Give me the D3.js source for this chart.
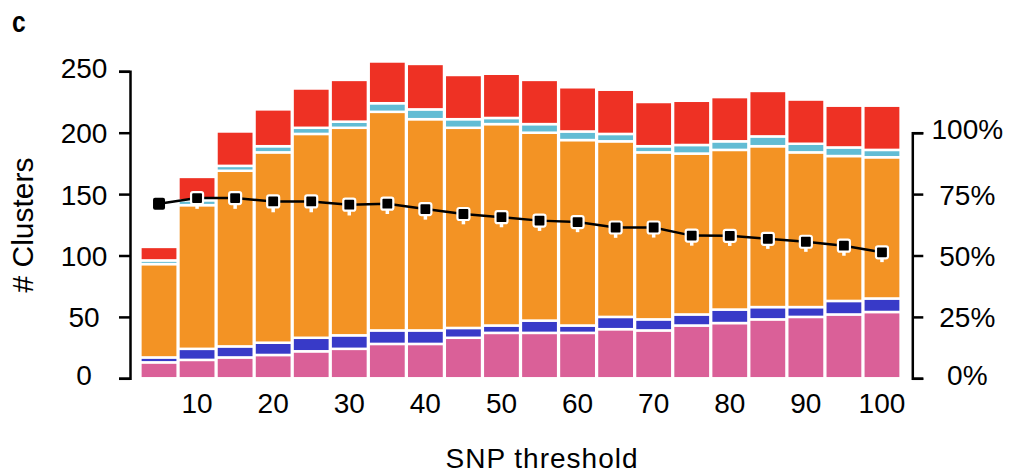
<!DOCTYPE html>
<html>
<head>
<meta charset="utf-8">
<script src="https://cdn.jsdelivr.net/npm/d3@7"></script>
<style>
  html, body { margin: 0; padding: 0; background: #fff; }
  svg { display: block; }
  text { font-family: "Liberation Sans", Arial, Helvetica, sans-serif; fill: #000; }
</style>
</head>
<body>
<svg id="chart" width="1010" height="473"></svg>
<script>
// SNP thresholds (one stacked bar each)
const thresholds = [5, 10, 15, 20, 25, 30, 35, 40, 45, 50, 55, 60, 65, 70, 75, 80, 85, 90, 95, 100];
const xTickLabels = [10, 20, 30, 40, 50, 60, 70, 80, 90, 100];
const yTicks = [0, 50, 100, 150, 200, 250];
const pctTicks = [0, 25, 50, 75, 100];

// Cluster counts per category, bottom to top of each stack
const pinkCounts   = [13, 15, 17, 19, 22, 24, 28, 28, 33, 37, 37, 37, 40, 39, 43, 45, 48, 50, 52, 54];
const blueCounts   = [4, 9, 9, 10, 11, 11, 11, 11, 8, 6, 10, 6, 10, 9, 9, 11, 10, 8, 11, 11];
const orangeCounts = [76, 117, 143, 155, 166, 169, 178, 172, 163, 164, 153, 151, 143, 136, 131, 130, 131, 126, 118, 115];
const cyanCounts   = [3, 4, 4, 5, 5, 5, 7, 8, 7, 5, 7, 7, 6, 5, 7, 7, 8, 7, 7, 6];
const redCounts    = [11, 19, 28, 30, 32, 34, 34, 37, 36, 36, 36, 36, 36, 36, 36, 36, 37, 36, 34, 36];

// Percentage line (right axis) with its lower / upper whiskers
const pctValues = [71.1, 73.4, 73.4, 72.0, 72.0, 70.7, 71.1, 68.9, 66.9, 65.6, 64.2, 63.6, 61.4, 61.4, 58.1, 58.0, 56.8, 55.6, 54.0, 51.3];
const pctLow    = [69.0, 69.0, 69.0, 67.6, 67.6, 66.3, 66.9, 64.6, 62.7, 61.5, 60.0, 59.5, 57.2, 57.3, 54.0, 53.9, 52.7, 51.5, 49.9, 47.3];
const pctHigh   = [72.0, 74.5, 75.0, 73.0, 73.0, 72.0, 72.0, 70.0, 68.0, 66.5, 65.5, 64.5, 62.5, 62.5, 59.5, 59.0, 58.0, 56.5, 55.0, 52.5];

const seriesKeys = ["pink", "blue", "orange", "cyan", "red"];
const seriesColors = {
  pink: "#da6098",
  blue: "#383ac8",
  orange: "#f39324",
  cyan: "#62bcd4",
  red: "#ee3124"
};

const rows = thresholds.map((t, i) => ({
  threshold: t,
  pink: pinkCounts[i],
  blue: blueCounts[i],
  orange: orangeCounts[i],
  cyan: cyanCounts[i],
  red: redCounts[i]
}));

const svg = d3.select("#chart");

const x = d3.scaleBand()
  .domain(thresholds)
  .range([140, 901])
  .paddingInner(0.02)
  .paddingOuter(0.01);

const y = d3.scaleLinear().domain([0, 250]).range([378.3, 71.3]);
const yPct = d3.scaleLinear().domain([0, 100]).range([y(0), y(200)]);

// Stacked bars
const stacked = d3.stack().keys(seriesKeys)(rows);

svg.append("g")
  .selectAll("g")
  .data(stacked)
  .join("g")
    .attr("fill", d => seriesColors[d.key])
  .selectAll("rect")
  .data(d => d)
  .join("rect")
    .attr("x", d => x(d.data.threshold))
    .attr("width", x.bandwidth())
    .attr("y", d => y(d[1]))
    .attr("height", d => y(d[0]) - y(d[1]))
    .attr("stroke", "#fff")
    .attr("stroke-width", 2.5);

// End labels sit a little above their ticks
const labelShift = (d, list) => (d === list[0] || d === list[list.length - 1]) ? -4 : 0;

// Left axis
const leftAxis = svg.append("g")
  .attr("transform", "translate(130,0)")
  .call(d3.axisLeft(y).tickValues(yTicks).tickSize(11).tickSizeOuter(11));
leftAxis.selectAll("path, line").attr("stroke", "#000").attr("stroke-width", 2.5);
leftAxis.selectAll("text")
  .attr("font-size", 28)
  .attr("font-family", "Liberation Sans, Arial, sans-serif")
  .attr("text-anchor", "middle")
  .attr("x", -46)
  .attr("y", d => labelShift(d, yTicks))
  .attr("dy", "0.36em");

// Right axis (percent)
const rightAxis = svg.append("g")
  .attr("transform", "translate(912.3,0)")
  .call(d3.axisRight(yPct).tickValues(pctTicks).tickSize(11).tickSizeOuter(11).tickFormat(d => d + "%"));
rightAxis.selectAll("path, line").attr("stroke", "#000").attr("stroke-width", 2.5);
rightAxis.selectAll("text")
  .attr("font-size", 28)
  .attr("font-family", "Liberation Sans, Arial, sans-serif")
  .attr("text-anchor", "middle")
  .attr("x", 55)
  .attr("y", d => labelShift(d, pctTicks))
  .attr("dy", "0.36em");

// Bottom tick labels (no axis line)
const bottomAxis = svg.append("g")
  .attr("transform", "translate(0,378)")
  .call(d3.axisBottom(x).tickValues(xTickLabels).tickSize(0));
bottomAxis.select(".domain").remove();
bottomAxis.selectAll("text")
  .attr("font-size", 28)
  .attr("font-family", "Liberation Sans, Arial, sans-serif")
  .attr("y", 35)
  .attr("dy", 0);

// Percentage line
const cx = (i) => x(thresholds[i]) + x.bandwidth() / 2;

const line = d3.line()
  .x((d, i) => cx(i))
  .y(d => yPct(d));

svg.append("path")
  .datum(pctValues)
  .attr("fill", "none")
  .attr("stroke", "#000")
  .attr("stroke-width", 2.5)
  .attr("d", line);

// Whiskers
svg.append("g")
  .selectAll("line")
  .data(pctValues)
  .join("line")
    .attr("x1", (d, i) => cx(i))
    .attr("x2", (d, i) => cx(i))
    .attr("y1", (d, i) => yPct(pctHigh[i]))
    .attr("y2", (d, i) => yPct(pctLow[i]))
    .attr("stroke", "#fff")
    .attr("stroke-width", 3.5);

// Markers
svg.append("g")
  .selectAll("rect")
  .data(pctValues)
  .join("rect")
    .attr("x", (d, i) => cx(i) - 6)
    .attr("y", d => yPct(d) - 6)
    .attr("width", 12)
    .attr("height", 12)
    .attr("rx", 2)
    .attr("fill", "#000")
    .attr("stroke", (d, i) => i === 0 ? "none" : "#fff")
    .attr("stroke-width", 2.2);

// Axis titles
svg.append("text")
  .attr("transform", "translate(33,225) rotate(-90)")
  .attr("text-anchor", "middle")
  .attr("font-size", 30)
  .text("# Clusters");

svg.append("text")
  .attr("x", 542)
  .attr("y", 468)
  .attr("text-anchor", "middle")
  .attr("font-size", 28)
  .attr("letter-spacing", 1)
  .text("SNP threshold");

// Panel letter
svg.append("text")
  .attr("transform", "translate(12,31.5) scale(0.82,1)")
  .attr("font-size", 30)
  .attr("font-weight", "bold")
  .text("c");
</script>
</body>
</html>
